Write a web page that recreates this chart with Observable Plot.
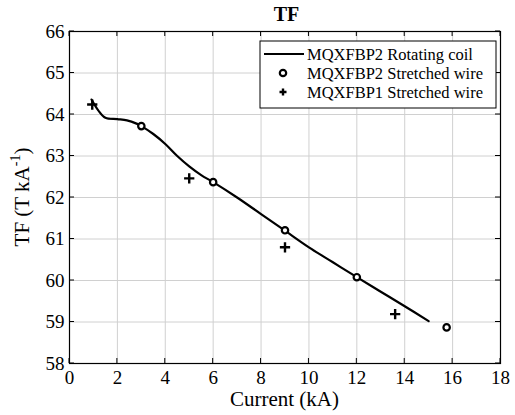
<!DOCTYPE html>
<html><head><meta charset="utf-8">
<script src="https://cdn.jsdelivr.net/npm/d3@7"></script>
<script src="https://cdn.jsdelivr.net/npm/@observablehq/plot@0.6"></script>
<style>
body{margin:0;background:#fff;}
#chart{position:absolute;left:0;top:0;}
svg text{font-family:"Liberation Serif","Times New Roman",serif;}
</style></head><body><div id="chart"></div>
<script>
const coilCurrent = [0.92, 1.2, 1.5, 2.0, 2.4, 2.8, 3.0, 3.5, 4.0, 4.5, 5.0, 5.5, 6.0, 7.0, 8.0, 9.0, 10.0, 11.0, 12.0, 13.0, 14.0, 15.0];
const coilTF      = [64.36, 64.1, 63.92, 63.89, 63.86, 63.78, 63.72, 63.53, 63.29, 63.0, 62.75, 62.54, 62.37, 62.0, 61.6, 61.2, 60.8, 60.44, 60.08, 59.73, 59.38, 59.02];
const wire2Current = [3, 6, 9, 12, 15.75];
const wire2TF      = [63.72, 62.37, 61.21, 60.08, 58.87];
const wire1Current = [0.95, 5.0, 9.0, 13.6];
const wire1TF      = [64.24, 62.46, 60.8, 59.19];
const xTicks = [0,2,4,6,8,10,12,14,16,18];
const yTicks = [58,59,60,61,62,63,64,65,66];
const seriesNames = ["MQXFBP2 Rotating coil","MQXFBP2 Stretched wire","MQXFBP1 Stretched wire"];

const coil = coilCurrent.map((x,i)=>({x, y: coilTF[i]}));
const wire2 = wire2Current.map((x,i)=>({x, y: wire2TF[i]}));
const wire1 = wire1Current.map((x,i)=>({x, y: wire1TF[i]}));

const font = "Liberation Serif";
const plot = Plot.plot({
  width: 515, height: 415,
  marginLeft: 69, marginRight: 15, marginTop: 31, marginBottom: 52,
  style: {fontFamily: "Liberation Serif", fontSize: "19px", color: "black", background: "#fff"},
  x: {domain: [0,18], ticks: xTicks, label: null},
  y: {domain: [58,66], ticks: yTicks, label: null},
  marks: [
    Plot.gridX(xTicks, {stroke: "#d0d0d0", strokeOpacity: 1, strokeWidth: 1}),
    Plot.gridY(yTicks, {stroke: "#d0d0d0", strokeOpacity: 1, strokeWidth: 1}),
    Plot.axisX(xTicks, {tickSize: 0, tickPadding: 7, fontSize: 19, fill: "black"}),
    Plot.axisY(yTicks, {tickSize: 0, tickPadding: 5, fontSize: 19, fill: "black"}),
    Plot.frame({stroke: "black", strokeWidth: 1.2}),
    Plot.line(coil, {x: "x", y: "y", stroke: "black", strokeWidth: 2.2, curve: "catmull-rom"}),
    Plot.dot(wire2, {x: "x", y: "y", r: 3.2, stroke: "black", strokeWidth: 2.2, fill: "white"}),
    Plot.dot(wire1, {x: "x", y: "y", symbol: "plus", r: 3.4, stroke: "black", strokeWidth: 2.4})
  ]
});
document.getElementById("chart").appendChild(plot);
const svg = d3.select(plot);
const sx = plot.scale("x"), sy = plot.scale("y");
const x0 = sx.apply(0), x1 = sx.apply(18), y0 = sy.apply(58), y1 = sy.apply(66);
// inward ticks on all four sides
const tg = svg.append("g").attr("stroke", "black").attr("stroke-width", 1);
xTicks.forEach(t => {
  const px = sx.apply(t);
  tg.append("line").attr("x1", px).attr("x2", px).attr("y1", y0).attr("y2", y0-5);
  tg.append("line").attr("x1", px).attr("x2", px).attr("y1", y1).attr("y2", y1+5);
});
yTicks.forEach(t => {
  const py = sy.apply(t);
  tg.append("line").attr("x1", x0).attr("x2", x0+5).attr("y1", py).attr("y2", py);
  tg.append("line").attr("x1", x1).attr("x2", x1-5).attr("y1", py).attr("y2", py);
});
// title
svg.append("text").attr("x", (x0+x1)/2 + 2).attr("y", 21).attr("text-anchor","middle")
  .attr("font-family", font).attr("font-weight","bold").attr("font-size", 20).attr("fill","black").text("TF");
// x label
svg.append("text").attr("x", (x0+x1)/2).attr("y", 406).attr("text-anchor","middle")
  .attr("font-family", font).attr("font-size", 21).attr("fill","black").text("Current (kA)");
// y label
const yl = svg.append("text").attr("transform", `translate(29,${(y0+y1)/2}) rotate(-90)`).attr("text-anchor","middle")
  .attr("font-family", font).attr("font-size", 21).attr("fill","black");
yl.append("tspan").text("TF (T kA");
yl.append("tspan").attr("dy", -9).attr("font-size", 14).text("-1");
yl.append("tspan").attr("dy", 9).text(")");
// legend
const lg = svg.append("g").attr("font-family", font).attr("font-size", 16.5).attr("fill", "black").attr("text-anchor", "start");
lg.append("rect").attr("x", 260).attr("y", 41).attr("width", 236).attr("height", 67)
  .attr("fill", "white").attr("stroke", "black").attr("stroke-width", 1);
const rows = [54, 73, 92];
lg.append("line").attr("x1", 264).attr("x2", 304).attr("y1", rows[0]).attr("y2", rows[0]).attr("stroke","black").attr("stroke-width", 2.2);
lg.append("circle").attr("cx", 283).attr("cy", rows[1]).attr("r", 3.2).attr("fill","white").attr("stroke","black").attr("stroke-width", 2.2);
lg.append("path").attr("d", `M279.5,${rows[2]}h7M283,${rows[2]-3.5}v7`).attr("stroke","black").attr("stroke-width", 2.4);
seriesNames.forEach((n,i) => {
  lg.append("text").attr("x", 307).attr("y", rows[i]).attr("dy", "0.35em").attr("text-anchor","start").text(n);
});
</script></body></html>
